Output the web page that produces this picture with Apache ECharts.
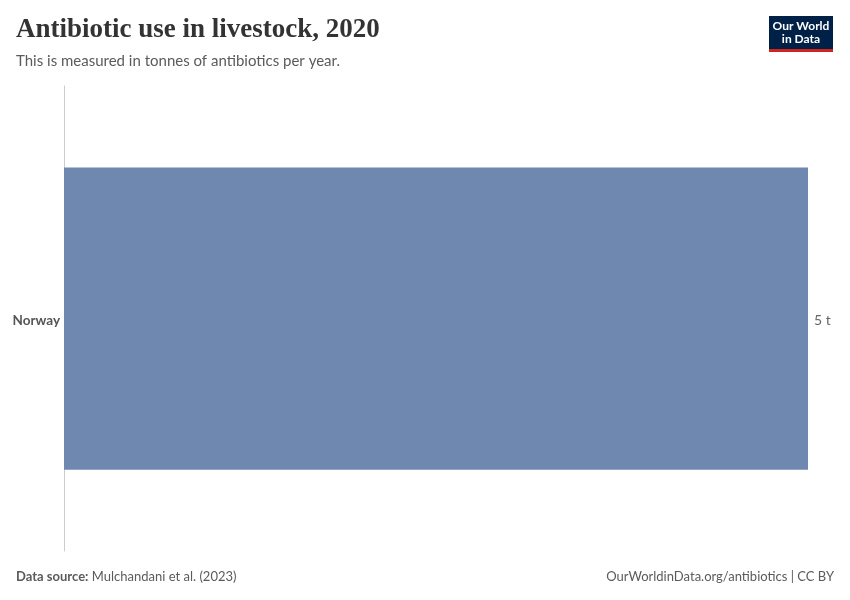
<!DOCTYPE html>
<html><head><meta charset="utf-8">
<script src="https://cdn.jsdelivr.net/npm/echarts@6/dist/echarts.min.js"></script>
<style>html,body{margin:0;padding:0;background:#fff}#c{width:850px;height:600px}</style>
</head><body><div id="c"></div>
<script>
const categories = ['Norway'];
const values = [5];
const unit = ' t';
const xMax = 5;

const chart = echarts.init(document.getElementById('c'), null, {renderer: 'canvas'});
chart.setOption({
  animation: false,
  backgroundColor: '#fff',
  grid: {left: 64, right: 42, top: 86, bottom: 49, containLabel: false},
  xAxis: {type: 'value', min: 0, max: xMax, show: false},
  yAxis: {
    type: 'category', data: categories, inverse: true,
    axisLine: {show: true, lineStyle: {color: '#cccccc', width: 1}},
    axisTick: {show: false},
    axisLabel: {margin: 4, formatter: v => '{a|' + v + '}',
      rich: {a: {color: '#555', fontFamily: 'Lato', fontSize: 13.5, fontWeight: 'bold', padding: [4, 0, 0, 0]}}}
  },
  series: [{
    type: 'bar', data: values, barWidth: '65%',
    itemStyle: {color: '#6f88b0'},
    label: {show: true, position: 'right', distance: 6, offset: [0, 2], color: '#666', fontFamily: 'Lato', fontSize: 14,
      formatter: p => p.value + unit}
  }],
  graphic: [
    {type: 'text', left: 16, top: 17, style: {text: 'Antibiotic use in livestock, 2020', font: 'bold 27px "Liberation Serif", "DejaVu Serif", serif', fill: '#333'}},
    {type: 'text', left: 16, top: 54, style: {text: 'This is measured in tonnes of antibiotics per year.', font: '15px Lato, sans-serif', fill: '#5b5b5b'}},
    {type: 'rect', left: 769, top: 16, shape: {width: 64, height: 33}, style: {fill: '#002147'}},
    {type: 'rect', left: 769, top: 49, shape: {width: 64, height: 3}, style: {fill: '#ce261e'}},
    {type: 'text', x: 801, y: 20, style: {text: 'Our World\nin Data', font: 'bold 12px Lato, sans-serif', fill: '#fff', align: 'center', verticalAlign: 'top', lineHeight: 13}},
    {type: 'text', left: 16, top: 570, style: {rich: {b: {font: 'bold 13px Lato, sans-serif', fill: '#5b5b5b'}, n: {font: '13px Lato, sans-serif', fill: '#5b5b5b'}}, text: '{b|Data source:} {n|Mulchandani et al. (2023)}'}},
    {type: 'text', right: 16, top: 570, style: {text: 'OurWorldinData.org/antibiotics | CC BY', font: '13px Lato, sans-serif', fill: '#5b5b5b'}}
  ]
});
</script></body></html>
